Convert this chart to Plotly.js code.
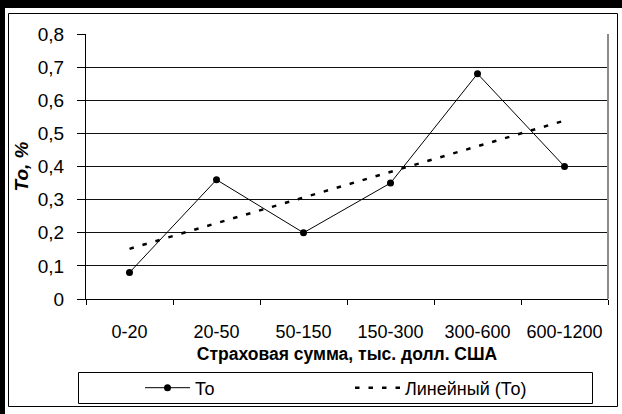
<!DOCTYPE html>
<html>
<head>
<meta charset="utf-8">
<script src="https://cdn.plot.ly/plotly-3.0.1.min.js"></script>
<style>
  html, body { margin: 0; padding: 0; background: #fff; }
  #chart { width: 622px; height: 414px; }
</style>
</head>
<body>
<div id="chart"></div>
<script>
// Страховая сумма (тыс. долл. США) и показатель То, %
const categories = ['0-20', '20-50', '50-150', '150-300', '300-600', '600-1200'];
const toValues = [0.08, 0.36, 0.2, 0.35, 0.68, 0.4];
const yTicks = [0, 0.1, 0.2, 0.3, 0.4, 0.5, 0.6, 0.7, 0.8];

const seriesName = 'То';
const trendName = 'Линейный (То)';
const xTitle = 'Страховая сумма, тыс. долл. США';
const yTitle = 'То, %';

// Linear least-squares trend over category index 1..n (as in a spreadsheet trendline)
function linearTrend(values) {
  const n = values.length;
  const xs = values.map((_, i) => i + 1);
  const mx = xs.reduce((a, b) => a + b, 0) / n;
  const my = values.reduce((a, b) => a + b, 0) / n;
  let sxy = 0, sxx = 0;
  for (let i = 0; i < n; i++) {
    sxy += (xs[i] - mx) * (values[i] - my);
    sxx += (xs[i] - mx) * (xs[i] - mx);
  }
  const slope = sxy / sxx;
  const intercept = my - slope * mx;
  return xs.map(x => intercept + slope * x);
}
const trendValues = linearTrend(toValues);

// Layout geometry in pixels
const W = 622, H = 414;
const M = { l: 86, r: 14, t: 34, b: 115 };
const pw = W - M.l - M.r, ph = H - M.t - M.b;
const px = x => (x - M.l) / pw;
const py = y => (H - M.b - y) / ph;
// container-relative positions (for legends, so they never push the margins)
const cx = x => x / W;
const cy = y => (H - y) / H;

const FONT = 'Liberation Sans, Arial, sans-serif';

const traces = [
  {
    x: categories, y: toValues, name: seriesName, type: 'scatter', mode: 'lines+markers',
    line: { color: '#000', width: 1 },
    marker: { color: '#000', size: 7, symbol: 'circle' },
    legend: 'legend'
  },
  {
    x: categories, y: trendValues, name: trendName, type: 'scatter', mode: 'lines',
    line: { color: '#000', width: 2.5, dash: '4.5px,9px' },
    legend: 'legend2'
  }
];

const frameShapes = [
  // heavy top and left edge of the chart frame
  { type: 'rect', xref: 'paper', yref: 'paper', x0: px(0), x1: px(W), y0: py(8), y1: py(0),
    fillcolor: '#000', line: { width: 0 }, layer: 'below' },
  { type: 'rect', xref: 'paper', yref: 'paper', x0: px(0), x1: px(5), y0: py(H), y1: py(0),
    fillcolor: '#000', line: { width: 0 }, layer: 'below' },
  // thin inner chart border
  { type: 'rect', xref: 'paper', yref: 'paper', x0: px(8.5), x1: px(617.5), y0: py(406.5), y1: py(13.5),
    line: { color: '#000', width: 1 }, layer: 'below' },
  // plot-area edge on the right
  { type: 'line', xref: 'paper', yref: 'paper', x0: 1, x1: 1, y0: 0, y1: 1,
    line: { color: '#8c8c8c', width: 2 }, layer: 'above' },
  // legend box
  { type: 'rect', xref: 'paper', yref: 'paper', x0: px(78.5), x1: px(592.5), y0: py(403.5), y1: py(372.5),
    line: { color: '#000', width: 1 }, layer: 'below' }
];

const layout = {
  width: W, height: H,
  margin: M,
  paper_bgcolor: '#fff', plot_bgcolor: '#fff',
  separators: ', ',
  font: { family: FONT, color: '#000', size: 18 },
  showlegend: true,
  xaxis: {
    type: 'category', range: [-0.5, categories.length - 0.5],
    tickson: 'boundaries', ticks: 'outside', ticklen: 5, tickcolor: '#000', tickwidth: 1,
    showline: true, linecolor: '#000', linewidth: 1, showgrid: false, zeroline: false,
    tickfont: { size: 18 }, ticklabelstandoff: 16,
    title: { text: xTitle, font: { size: 17.5, weight: 'bold' }, standoff: 7 },
    automargin: false, fixedrange: true
  },
  yaxis: {
    range: [0, 0.8], tickvals: yTicks,
    ticks: 'outside', ticklen: 8, tickcolor: '#000', tickwidth: 1,
    showline: true, linecolor: '#000', linewidth: 1,
    showgrid: true, gridcolor: '#111', gridwidth: 1, zeroline: false,
    tickfont: { size: 19 }, ticklabelstandoff: 9,
    title: { text: yTitle, font: { size: 19, weight: 'bold', style: 'italic' }, standoff: 4 },
    automargin: false, fixedrange: true
  },
  legend: {
    orientation: 'h', xref: 'container', yref: 'container',
    x: cx(140), xanchor: 'left', y: cy(388), yanchor: 'middle',
    bgcolor: 'rgba(0,0,0,0)', borderwidth: 0, itemwidth: 45,
    font: { size: 18 }
  },
  legend2: {
    orientation: 'h', xref: 'container', yref: 'container',
    x: cx(350), xanchor: 'left', y: cy(388), yanchor: 'middle',
    bgcolor: 'rgba(0,0,0,0)', borderwidth: 0, itemwidth: 45,
    font: { size: 18 }
  },
  shapes: frameShapes
};

Plotly.newPlot('chart', traces, layout, { displayModeBar: false, staticPlot: true });
</script>
</body>
</html>
